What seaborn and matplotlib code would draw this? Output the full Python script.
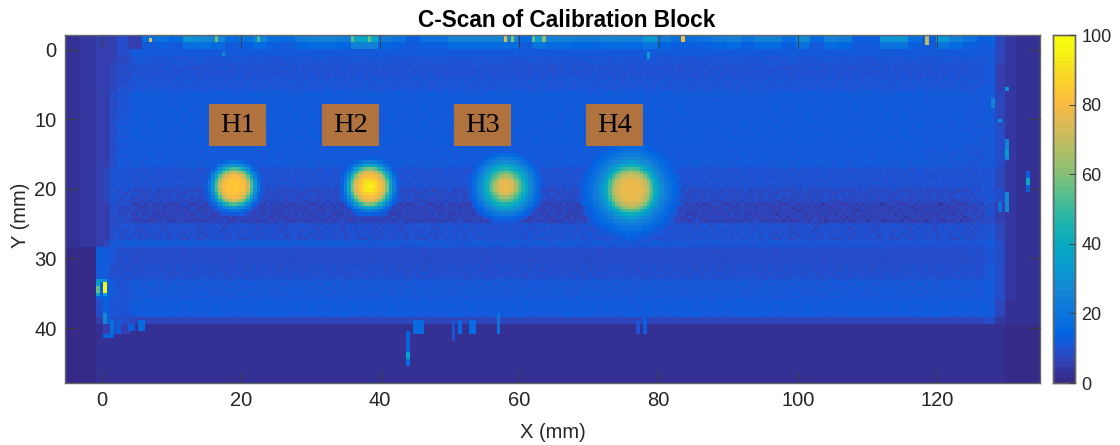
import numpy as np
import pandas as pd
import matplotlib
matplotlib.use('Agg')
import matplotlib.pyplot as plt
import seaborn as sns
from matplotlib.colors import LinearSegmentedColormap
from matplotlib.patches import Rectangle

# C-scan amplitude (%) in bands
x_edges = [-5.25, -3.5, -1, 0, 1, 2, 4, 12, 24, 36, 48, 60, 72, 84, 96, 108, 118, 124, 126.5, 128, 129.5, 131, 134.75]
y_edges = [-2.1, -1.1, -0.1, 1, 2, 4, 6, 10, 14, 17, 20, 22, 25, 27.3, 28.4, 31, 33, 36, 38.4, 39.2, 41, 47.9]
base_values = [
    [3, 4, 5, 5, 6, 9, 22, 22, 22, 22, 22, 22, 22, 22, 22, 22, 22, 20, 16, 7, 4, 3],
    [3, 4, 5, 5, 6, 9, 14, 15, 15, 15, 15, 15, 15, 15, 15, 15, 15, 14, 13, 7, 4, 3],
    [3, 4, 5, 5, 6, 8, 11, 12, 12, 12, 12, 12, 11, 12, 12, 12, 12, 11, 11, 7, 4, 3],
    [3, 4, 5, 5, 6, 8, 10.5, 10.5, 10.5, 10.5, 10.5, 10.5, 10.5, 10.5, 10.5, 10.5, 10.5, 10.5, 11, 7, 4, 3],
    [3, 4, 5, 5, 7, 8, 9.5, 9.5, 9.5, 9.5, 9.5, 9.5, 9.5, 9.5, 9.5, 9.5, 9.5, 10, 11, 6, 4, 3],
    [3, 4, 5, 6, 7, 9, 10.5, 10.5, 10.5, 10.5, 10.5, 10.5, 10.5, 10.5, 10.5, 10.5, 10.5, 10.5, 11, 6, 4, 3],
    [3, 4, 5, 6, 8, 10, 12, 12, 12, 12, 12, 12, 12, 11.5, 12, 12, 11.5, 11, 12, 7, 4, 3],
    [3, 4, 5, 6, 9, 11, 12, 12, 12, 12, 12, 12, 12, 12, 12, 12, 11.5, 11, 11, 8, 4, 3],
    [3, 4, 5, 6, 9, 11, 11.5, 11.5, 11.5, 11.5, 11.5, 11.5, 11.5, 11.5, 11.5, 11.5, 11, 10.5, 11, 8, 4, 3],
    [3, 4, 5, 7, 10, 10, 9.5, 9.5, 9.5, 9.5, 9.5, 9.5, 9.5, 9.5, 9.5, 9.5, 9.5, 9.5, 10, 7, 4, 3],
    [3, 4, 5, 7, 10, 9, 8, 8, 8, 8, 8, 8, 8, 8, 8, 8, 8, 9, 10, 8, 4, 3],
    [3, 4, 5, 6, 9, 8, 6.5, 6.5, 6.5, 6.5, 6.5, 6.5, 6.5, 6.5, 6, 6, 6, 7, 9, 6, 3.5, 3],
    [3, 4, 5, 6, 9, 9, 9, 9, 9, 9, 9.5, 9.5, 9.5, 9.5, 9, 9, 9, 9, 10, 7, 4, 3],
    [3, 4, 5, 7, 11, 11.5, 11.5, 11.5, 11.5, 11, 11, 11, 11, 10.5, 10.5, 10, 10, 10, 11, 8, 4, 3],
    [1.5, 1.5, 13, 12, 10, 9, 8.5, 8.5, 8.5, 8.5, 8.5, 8.5, 8.5, 8.5, 8.5, 8.5, 8.5, 9, 10, 8, 4, 2.5],
    [1.5, 1.5, 11, 11, 9, 9, 9, 9, 9, 9, 9, 9, 9, 9, 9, 9, 9, 9, 11, 8, 4, 2.5],
    [1.5, 1.5, 13, 13, 11, 10, 11, 11, 11, 11, 11, 11, 11, 11, 11, 11, 11, 11, 12, 8, 4, 2.5],
    [1.5, 1.5, 8, 12, 10, 10, 12, 12, 12, 12, 12, 12, 12, 12, 12, 12, 12, 12, 12, 7, 3, 2.5],
    [1.5, 1.5, 5, 11, 9, 8, 7, 7, 7, 7, 7, 7, 7, 7, 7, 7, 7, 7, 8, 4, 2, 2],
    [1.5, 1.5, 3, 6, 8, 5, 2.5, 2, 2, 2.5, 2, 2, 2, 2, 2, 2, 2, 2, 2.5, 2, 1.5, 1.5],
    [1.5, 1.5, 1.8, 1.8, 1.8, 1.8, 1.8, 1.8, 1.8, 1.8, 1.8, 1.8, 1.8, 1.8, 1.8, 1.8, 1.8, 1.8, 1.8, 1.8, 1.5, 1.5],
]

# top edge of the block, one value per 2 mm from x = 4
top_row = [6, 18, 20, 16, 30, 28, 26, 16, 20, 26, 18, 16, 22, 24, 26, 22, 38, 38, 22, 20, 14, 20, 20, 26, 26,
           26, 26, 26, 16, 32, 24, 24, 22, 22, 26, 24, 24, 32, 22, 18, 18, 20, 22, 24, 20, 24, 24, 18, 28, 16,
           24, 22, 14, 14, 30, 30, 18, 14, 32, 24, 20, 14]
second_row = [5, 12, 13, 12, 18, 18, 16, 12, 14, 17, 13, 12, 15, 16, 17, 15, 24, 24, 15, 14, 12, 14, 14, 17, 17,
              17, 17, 17, 12, 20, 16, 16, 15, 15, 17, 16, 16, 20, 15, 13, 13, 14, 15, 16, 14, 16, 16, 13, 18, 12,
              16, 15, 12, 12, 20, 20, 13, 12, 20, 16, 14, 12]

grain = [
    [0.4, -0.6, 0.9, -0.2, -1.0, 0.6, 0.1, -0.7, 1.0, -0.3, 0.5, -0.9, 0.2, 0.8, -0.5, -0.1, 0.7],
    [-0.8, 0.3, -0.1, 1.0, 0.2, -0.9, 0.7, 0.4, -0.5, 0.9, -1.0, 0.1, 0.6, -0.4, 0.3, 0.9, -0.7],
    [0.6, 1.0, -0.7, 0.1, -0.4, 0.8, -1.0, 0.3, 0.2, -0.6, 0.7, 0.4, -0.9, 0.1, 1.0, -0.3, 0.2],
    [-0.2, -0.9, 0.5, 0.7, -1.0, 0.2, 0.6, -0.5, 0.9, 0.1, -0.4, 1.0, -0.7, -0.1, 0.4, 0.6, -1.0],
    [1.0, 0.1, -0.4, -0.8, 0.6, 0.3, -0.2, 0.9, -0.7, 0.5, 0.2, -0.6, 0.8, -1.0, -0.3, 0.7, 0.4],
    [-0.5, 0.7, 0.2, 0.9, -0.3, -1.0, 0.4, 0.1, 0.6, -0.8, 1.0, -0.2, -0.5, 0.7, 0.3, -0.9, 0.1],
    [0.2, -0.4, 1.0, -0.6, 0.5, 0.8, -0.9, -0.1, 0.3, 0.7, -0.3, 0.6, 0.9, -0.8, 0.1, 0.4, -0.5],
    [-1.0, 0.6, -0.3, 0.4, 0.9, -0.5, 0.2, 1.0, -0.8, -0.2, 0.5, -0.7, 0.1, 0.3, 0.8, -0.6, 0.9],
    [0.7, -0.1, 0.3, -0.9, 0.1, 0.4, 0.9, -0.6, -0.2, 1.0, -0.8, 0.3, -0.4, 0.6, -0.7, 0.2, 0.5],
    [-0.3, 0.8, -1.0, 0.6, -0.6, 0.1, -0.4, 0.7, 0.5, -0.9, 0.2, 0.9, 0.4, -0.2, -1.0, 0.5, -0.1],
    [0.9, 0.2, 0.5, -0.4, 0.7, -0.7, 1.0, -0.3, 0.1, 0.4, -0.6, -0.1, -0.8, 1.0, 0.6, -0.4, 0.3],
]
grain_y0 = [1, 20, 27.3]
grain_y1 = [20, 27.3, 39]
grain_gain = [0.6, 1.5, 0.7]

# the four holes, one quarter each at 0.5 mm
h1_quarter = [
    [83, 83, 82, 80, 72, 54, 33, 19, 12],
    [83, 83, 82, 79, 70, 52, 31, 19, 12],
    [82, 82, 80, 76, 63, 46, 28, 17, 11],
    [80, 79, 76, 68, 54, 37, 24, 15, 10],
    [72, 70, 63, 54, 41, 27, 19, 12, 9],
    [54, 52, 46, 37, 27, 19, 14, 10, 0],
    [33, 31, 28, 24, 19, 14, 10, 0, 0],
    [19, 19, 17, 15, 12, 10, 0, 0, 0],
    [12, 12, 11, 10, 9, 0, 0, 0, 0],
]
h2_quarter = [
    [96, 93, 87, 82, 76, 60, 40, 24, 15],
    [93, 91, 86, 81, 74, 58, 38, 23, 14],
    [87, 86, 83, 78, 69, 52, 34, 21, 13],
    [82, 81, 78, 72, 60, 44, 29, 18, 12],
    [76, 74, 69, 60, 47, 33, 22, 15, 11],
    [60, 58, 52, 44, 33, 24, 17, 12, 0],
    [40, 38, 34, 29, 22, 17, 13, 0, 0],
    [24, 23, 21, 18, 15, 12, 0, 0, 0],
    [15, 14, 13, 12, 11, 0, 0, 0, 0],
]
h3_quarter = [
    [79, 78, 74, 66, 56, 46, 38, 29, 23, 17, 12],
    [78, 76, 72, 64, 55, 45, 37, 28, 22, 17, 12],
    [74, 72, 67, 59, 50, 42, 35, 27, 21, 16, 11],
    [66, 64, 59, 53, 46, 38, 31, 25, 20, 15, 11],
    [56, 55, 50, 46, 39, 33, 28, 22, 18, 13, 10],
    [46, 45, 42, 38, 33, 29, 24, 20, 16, 12, 0],
    [38, 37, 35, 31, 28, 24, 20, 17, 13, 10, 0],
    [29, 28, 27, 25, 22, 20, 17, 14, 11, 0, 0],
    [23, 22, 21, 20, 18, 16, 13, 11, 0, 0, 0],
    [17, 17, 16, 15, 13, 12, 10, 0, 0, 0, 0],
    [12, 12, 11, 11, 10, 0, 0, 0, 0, 0, 0],
]
h4_quarter = [
    [78, 78, 77, 76, 72, 66, 54, 42, 33, 27, 23, 19, 17, 15, 13],
    [78, 78, 77, 75, 71, 65, 53, 41, 33, 27, 23, 19, 17, 15, 13],
    [77, 77, 76, 74, 69, 62, 50, 39, 31, 26, 22, 19, 16, 14, 12],
    [76, 75, 74, 71, 66, 57, 46, 36, 29, 25, 21, 18, 16, 14, 12],
    [72, 71, 69, 66, 58, 49, 40, 32, 27, 23, 20, 17, 15, 13, 11],
    [66, 65, 62, 57, 49, 42, 35, 29, 25, 21, 18, 16, 14, 12, 0],
    [54, 53, 50, 46, 40, 35, 30, 26, 22, 19, 17, 15, 13, 11, 0],
    [42, 41, 39, 36, 32, 29, 26, 23, 20, 18, 16, 14, 12, 10, 0],
    [33, 33, 31, 29, 27, 25, 22, 20, 18, 16, 15, 13, 11, 0, 0],
    [27, 27, 26, 25, 23, 21, 19, 18, 16, 15, 13, 12, 10, 0, 0],
    [23, 23, 22, 21, 20, 18, 17, 16, 15, 13, 12, 11, 0, 0, 0],
    [19, 19, 19, 18, 17, 16, 15, 14, 13, 12, 11, 0, 0, 0, 0],
    [17, 17, 16, 16, 15, 14, 13, 12, 11, 10, 0, 0, 0, 0, 0],
    [15, 15, 14, 14, 13, 12, 11, 10, 0, 0, 0, 0, 0, 0, 0],
    [13, 13, 12, 12, 11, 0, 0, 0, 0, 0, 0, 0, 0, 0, 0],
]
hole_x = [18.9, 38.7, 57.9, 76.1]
hole_y = [19.6, 19.6, 19.6, 20.3]
hole_names = ['H1', 'H2', 'H3', 'H4']

# small bright defects: x0, x1, y0, y1, value
spot_x0 = [6.6, 16.4, 22.4, 35.6, 38.2, 57.6, 58.6, 61.9, 63.5, 83.1, 118.3, 17.4, 78.3,
           -0.8, -0.8, 0.2, 0.2, 0.2, 0.2, -0.8,
           1.5, 0.5, 2.5, 4.0, 5.5, 27.7, 44.0, 44.0, 44.0, 45.0, 50.3, 51.2, 52.7, 56.6, 76.7, 78.0,
           129.6, 127.8, 128.9, 129.6, 129.6, 132.7, 132.7, 129.6, 128.9]
spot_x1 = [7.1, 16.9, 22.9, 36.1, 38.7, 58.1, 59.1, 62.4, 64.0, 83.6, 118.8, 17.9, 78.8,
           -0.3, -0.3, 0.7, 0.7, 0.7, 0.7, 0.7,
           2.0, 2.0, 3.0, 5.0, 6.5, 28.0, 44.5, 44.5, 44.5, 46.4, 50.8, 51.7, 53.7, 57.5, 77.2, 78.4,
           130.1, 128.3, 129.4, 130.1, 130.1, 133.2, 133.2, 130.1, 129.4]
spot_y0 = [-1.6, -2.1, -2.1, -2.1, -2.1, -2.1, -2.1, -2.1, -2.1, -2.1, -2.1, 0.3, 0.3,
           32.8, 34.0, 33.5, 34.9, 35.4, 38.0, 32.8,
           39.0, 41.0, 39.0, 39.5, 39.0, 39.0, 40.5, 43.3, 44.3, 39.0, 39.0, 38.8, 39.0, 38.0, 39.0, 38.5,
           5.3, 6.7, 9.8, 12.9, 14.5, 17.2, 18.6, 20.4, 21.8]
spot_y1 = [-1.0, -1.1, -1.1, -1.1, -1.1, -1.1, -1.1, -1.1, -1.1, -1.1, -0.5, 1.0, 1.6,
           35.4, 34.8, 34.9, 35.4, 38.0, 39.5, 33.5,
           41.5, 41.5, 41.0, 40.5, 40.5, 42.0, 43.3, 44.3, 45.2, 41.0, 42.0, 41.0, 41.0, 41.0, 41.0, 41.0,
           6.0, 8.3, 10.5, 16.0, 15.5, 20.4, 19.2, 23.4, 23.4]
spot_val = [78, 55, 50, 55, 55, 75, 60, 55, 60, 80, 68, 28, 35,
            35, 55, 100, 35, 15, 28, 30,
            18, 15, 14, 14, 16, 5, 15, 35, 16, 16, 10, 17, 16, 20, 10, 14,
            30, 24, 32, 25, 35, 14, 38, 28, 20]

x_ticks = [0, 20, 40, 60, 80, 100, 120]
y_ticks = [0, 10, 20, 30, 40]
cbar_ticks = [0, 20, 40, 60, 80, 100]

parula = [(0.2081, 0.1663, 0.5292), (0.2081, 0.2386, 0.6771), (0.1253, 0.3242, 0.8303), (0.0117, 0.3875, 0.8820),
          (0.0329, 0.4430, 0.8720), (0.0723, 0.4887, 0.8467), (0.0749, 0.5375, 0.8263), (0.0343, 0.5966, 0.8199),
          (0.0231, 0.6418, 0.7913), (0.0384, 0.6743, 0.7436), (0.1133, 0.7015, 0.6859), (0.2178, 0.7250, 0.6193),
          (0.3482, 0.7424, 0.5473), (0.4871, 0.7491, 0.4840), (0.6099, 0.7473, 0.4337), (0.7184, 0.7411, 0.3905),
          (0.8185, 0.7327, 0.3498), (0.9139, 0.7258, 0.3063), (0.9938, 0.7455, 0.2403), (0.9880, 0.8066, 0.1794),
          (0.9626, 0.8705, 0.1309), (0.9661, 0.9514, 0.0755), (0.9763, 0.9831, 0.0538)]
cmap = LinearSegmentedColormap.from_list('parula', parula, N=64)

sns.set_theme(style='white')
plt.rcParams['font.family'] = ['Liberation Sans', 'DejaVu Sans']

# build the scan on a 0.5 mm grid
step = 0.5
xs = np.arange(-5.25, 134.75, step) + step / 2
ys = np.arange(-2.1, 47.9, step) + step / 2
col_idx = np.clip(np.searchsorted(x_edges, xs) - 1, 0, len(x_edges) - 2)
row_idx = np.clip(np.searchsorted(y_edges, ys) - 1, 0, len(y_edges) - 2)
scan = np.array(base_values, dtype=float)[np.ix_(row_idx, col_idx)]

# grain over the plate
tile = np.array(grain)
tiled = np.tile(tile, (len(ys) // tile.shape[0] + 1, len(xs) // tile.shape[1] + 1))[:len(ys), :len(xs)]
plate = (xs >= 2) & (xs < 128)
for y0, y1, gain in zip(grain_y0, grain_y1, grain_gain):
    rows = (ys >= y0) & (ys < y1)
    scan[np.ix_(rows, plate)] += gain * tiled[np.ix_(rows, plate)]

# top rows
for row, y_lo, y_hi in [(top_row, -2.1, -1.1), (second_row, -1.1, -0.1)]:
    rows = (ys >= y_lo) & (ys < y_hi)
    for i, v in enumerate(row):
        cols = (xs >= 4 + 2 * i) & (xs < 6 + 2 * i)
        scan[np.ix_(rows, cols)] = v

# holes
for quarter, cx, cy in zip([h1_quarter, h2_quarter, h3_quarter, h4_quarter], hole_x, hole_y):
    q = np.array(quarter, dtype=float)
    right = np.hstack([q[:, :0:-1], q])
    disc = np.vstack([right[:0:-1], right])
    n = q.shape[0] - 1
    ci = np.argmin(np.abs(xs - cx))
    ri = np.argmin(np.abs(ys - cy))
    patch = scan[ri - n:ri + n + 1, ci - n:ci + n + 1]
    scan[ri - n:ri + n + 1, ci - n:ci + n + 1] = np.maximum(patch, disc)

for x0, x1, y0, y1, v in zip(spot_x0, spot_x1, spot_y0, spot_y1, spot_val):
    scan[np.ix_((ys >= y0) & (ys < y1), (xs >= x0) & (xs < x1))] = v

df = pd.DataFrame(scan, index=ys, columns=xs)


def to_col(x):
    return (np.asarray(x) - xs[0]) / step + 0.5


def to_row(y):
    return (np.asarray(y) - ys[0]) / step + 0.5


fig = plt.figure(figsize=(11.2, 4.45), dpi=100)
ax = fig.add_axes([65 / 1120, 1 - 383 / 445, 975 / 1120, 348 / 445])
cax = fig.add_axes([1052.5 / 1120, 1 - 383 / 445, 22 / 1120, 348 / 445])
sns.heatmap(df, cmap=cmap, vmin=0, vmax=100, ax=ax, cbar_ax=cax, xticklabels=False, yticklabels=False)

text_col = '#262626'
ax.set_axisbelow(False)
ax.set_xticks(to_col(x_ticks))
ax.set_xticklabels(x_ticks, rotation=0)
ax.set_yticks(to_row(y_ticks))
ax.set_yticklabels(y_ticks, rotation=0)
ax.tick_params(direction='in', length=9, width=0.7, color='#404040', labelcolor=text_col, labelsize=14.5,
               top=True, right=True, bottom=True, left=True, pad=6)
for s in ax.spines.values():
    s.set_visible(True)
    s.set_color('#666666')
    s.set_linewidth(1)
ax.set_xlabel('X (mm)', fontsize=14.5, color=text_col, va='center')
ax.xaxis.set_label_coords(0.5, -49 / 348)
ax.set_ylabel('Y (mm)', fontsize=14.5, color=text_col, va='center')
ax.yaxis.set_label_coords(-45 / 975, 0.483)
ax.set_title('C-Scan of Calibration Block', fontsize=16.3, fontweight='bold', color='black', x=0.515, pad=6)

# hole labels
for name, left in zip(hole_names, [15.4, 31.6, 50.6, 69.5]):
    ax.add_patch(Rectangle((to_col(left), to_row(7.8)), 8.2 / step, 6.0 / step, facecolor='#B0733F', edgecolor='none', zorder=3))
    ax.text(to_col(left + 4.1), to_row(10.9), name, ha='center', va='center', color='black',
            family='Liberation Serif', fontsize=20.5, zorder=4)

cax.set_axisbelow(False)
cax.set_yticks(cbar_ticks)
cax.tick_params(direction='in', length=4, width=0.7, color='#404040', labelcolor=text_col, labelsize=13, pad=5)
for s in cax.spines.values():
    s.set_visible(True)
    s.set_color('#666666')
    s.set_linewidth(1)

fig.savefig('out.png', dpi=100)
